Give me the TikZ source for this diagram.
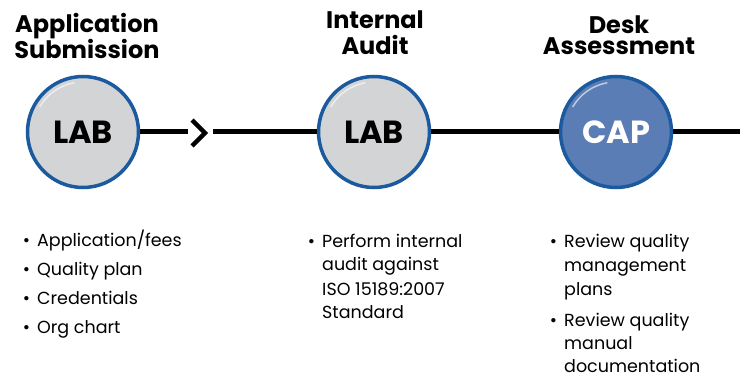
\documentclass[tikz,border=0pt]{standalone}
\usepackage{fontspec}
\usetikzlibrary{calc}
\setmainfont{Poppins}
\definecolor{circgray}{HTML}{D3D4D6}
\definecolor{circblue}{HTML}{1B5A9E}
\definecolor{capfill}{HTML}{5A7DB5}
\begin{document}
\begin{tikzpicture}[x=1pt,y=-1pt,
  stage/.style={circle,draw=circblue,line width=3.5pt,minimum size=111pt,inner sep=0pt,
    font=\fontsize{32}{34}\selectfont\bfseries},
  labstage/.style={stage,fill=circgray,text=black},
  capstage/.style={stage,fill=capfill,text=white},
  title/.style={align=center,anchor=base,inner sep=0pt,font=\fontsize{24}{26}\selectfont\bfseries},
  item/.style={align=left,anchor=base west,inner sep=0pt,font=\fontsize{17.5}{24}\selectfont},
  conn/.style={line width=5pt,black},
  gloss/.style={white,opacity=0.6,line width=1.5pt}]
\useasboundingbox (0,0) rectangle (740,377);
\node[labstage] (c1) at (83,132) {LAB};
\node[labstage] (c2) at (374,132) {LAB};
\node[capstage] (c3) at (616,132) {CAP};
\foreach \c in {c1,c2,c3}{
  \draw[gloss] ($(\c)+(-100:50)$) arc (-100:-150:50);
}
\coordinate (l1) at (188,132);
\coordinate (ch1) at (192,120);
\coordinate (ch2) at (205,133);
\coordinate (ch3) at (192,146);
\coordinate (l2) at (213,132);
\coordinate (lend) at (740,132);
\draw[conn] (c1.east) -- (l1);
\draw[line width=4.5pt,miter limit=10] (ch1) -- (ch2) -- (ch3);
\draw[conn] (l2) -- (c2.west);
\draw[conn] (c2.east) -- (c3.west);
\draw[conn] (c3.east) -- (lend);
\node[title] (t1) at (87,59) {Application\\Submission};
\node[title] (t2) at (375,55) {Internal\\Audit};
\node[title,font=\fontsize{24}{21.5}\selectfont\bfseries] (t3) at (619,55) {Desk\\Assessment};
\node[item] (a1) at (37,247) {\llap{•\hspace{7pt}}Application/fees};
\node[item] (a2) at (37,276) {\llap{•\hspace{7pt}}Quality plan};
\node[item] (a3) at (37,305) {\llap{•\hspace{7pt}}Credentials};
\node[item] (a4) at (37,334) {\llap{•\hspace{7pt}}Org chart};
\node[item] (b1) at (322,319) {\llap{•\hspace{7pt}}Perform internal\\audit against\\ISO 15189:2007\\Standard};
\node[item] (d1) at (564,295) {\llap{•\hspace{7pt}}Review quality\\management\\plans};
\node[item,font=\fontsize{17.5}{23}\selectfont] (d2) at (564,372) {\llap{•\hspace{7pt}}Review quality\\manual\\documentation};
\end{tikzpicture}
\end{document}
